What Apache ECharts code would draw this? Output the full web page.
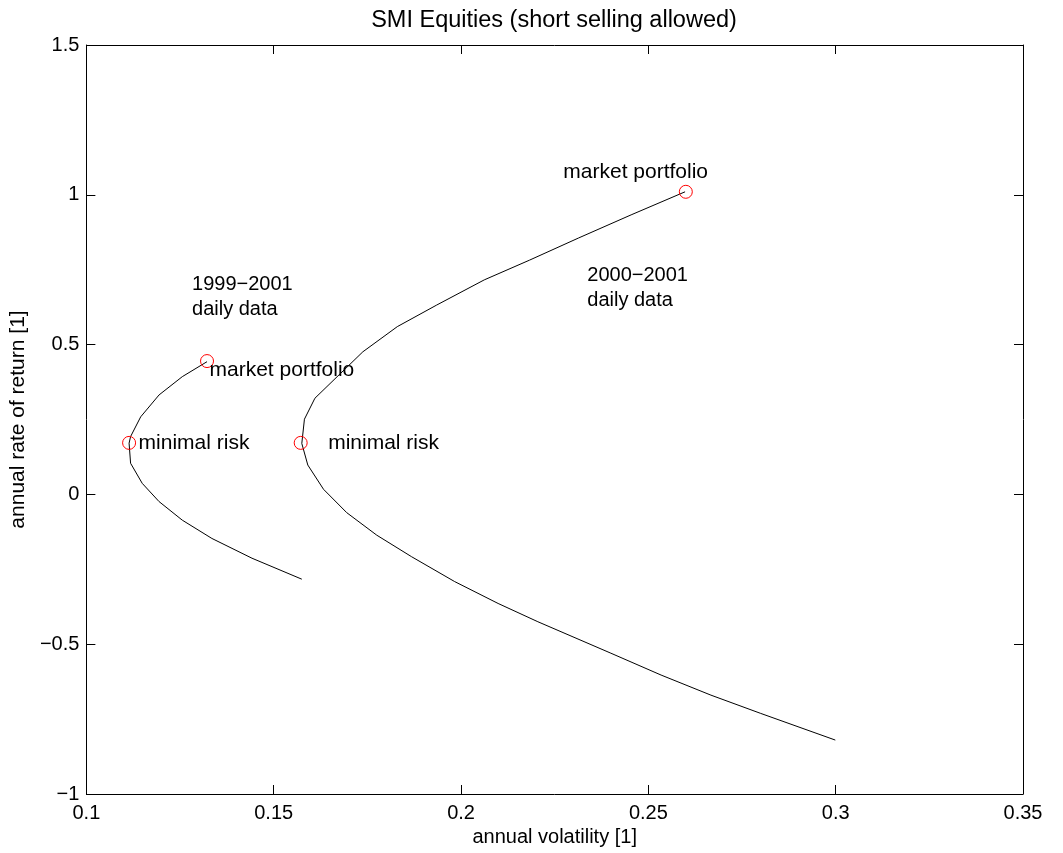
<!DOCTYPE html>
<html>
<head>
<meta charset="utf-8">
<script src="https://cdn.jsdelivr.net/npm/echarts@6/dist/echarts.min.js"></script>
<style>
  html, body { margin: 0; padding: 0; background: #fff; }
  #chart { width: 1063px; height: 853px; }
</style>
</head>
<body>
<div id="chart"></div>
<script>
// ---- Data ----
const titleText = 'SMI Equities (short selling allowed)';
const xAxisName = 'annual volatility [1]';
const yAxisName = 'annual rate of return [1]';

const xTicks = [0.1, 0.15, 0.2, 0.25, 0.3, 0.35];
const yTicks = [-1, -0.5, 0, 0.5, 1, 1.5];

// Frontier 1999-2001 (volatility, return), from market portfolio downwards
const frontier1999 = [
  [0.1322, 0.443], [0.1256, 0.393], [0.1194, 0.332], [0.1145, 0.259],
  [0.1118, 0.193], [0.1114, 0.171], [0.1118, 0.104], [0.1149, 0.037],
  [0.1194, -0.024], [0.1256, -0.086], [0.1335, -0.147], [0.1442, -0.213],
  [0.1575, -0.283]
];

// Frontier 2000-2001
const frontier2000 = [
  [0.2598, 1.010], [0.2454, 0.933], [0.2314, 0.856], [0.2183, 0.782],
  [0.2062, 0.716], [0.1935, 0.632], [0.1830, 0.560], [0.1738, 0.476],
  [0.1610, 0.321], [0.1582, 0.251], [0.1575, 0.170], [0.1591, 0.098],
  [0.1633, 0.017], [0.1695, -0.061], [0.1775, -0.136], [0.1868, -0.208],
  [0.1983, -0.291], [0.2099, -0.364], [0.2205, -0.425], [0.2400, -0.530],
  [0.2534, -0.603], [0.2667, -0.670], [0.2800, -0.731], [0.2999, -0.820]
];

// Special portfolios
const marketPortfolio1999 = [0.1322, 0.445];
const minimalRisk1999 = [0.1114, 0.172];
const marketPortfolio2000 = [0.2600, 1.010];
const minimalRisk2000 = [0.1572, 0.172];

const labelMarket = 'market portfolio';
const labelMinimal = 'minimal risk';

// Free text annotations: [x, y, text]
const periodNotes = [
  [0.1282, 0.6605, '1999\u22122001\ndaily data'],
  [0.2337, 0.6906, '2000\u22122001\ndaily data']
];

// ---- Chart ----
const FONT = '"Liberation Sans", Arial, Helvetica, sans-serif';
const fmtMinus = v => String(+v.toFixed(2)).replace('-', '\u2212');

const baseAxis = {
  type: 'value',
  axisLine: { show: true, onZero: false, lineStyle: { color: '#000', width: 1 } },
  axisTick: { show: true, inside: true, length: 9, lineStyle: { color: '#000', width: 1 } },
  splitLine: { show: false }
};

const chart = echarts.init(document.getElementById('chart'), null, { renderer: 'canvas' });

function markerLabel(text, dx, dy) {
  return {
    show: true, position: 'right', distance: 0, offset: [dx, dy],
    formatter: text, color: '#000', opacity: 1, fontFamily: FONT, fontSize: 21
  };
}

const markerStyle = {
  color: 'rgba(0,0,0,0)', borderColor: '#ff0000', borderWidth: 1, opacity: 1
};

chart.setOption({
  animation: false,
  backgroundColor: '#fff',
  title: {
    text: titleText, left: 549, textAlign: 'center', top: 4,
    textStyle: { fontFamily: FONT, fontSize: 23.5, fontWeight: 'normal', color: '#000' }
  },
  grid: { left: 84, right: 40, top: 45, bottom: 59, containLabel: false },
  xAxis: [
    Object.assign({}, baseAxis, {
      position: 'bottom', min: xTicks[0], max: xTicks[xTicks.length - 1], interval: 0.05,
      name: xAxisName, nameLocation: 'middle', nameGap: 33,
      nameTextStyle: { fontFamily: FONT, fontSize: 20, color: '#000' },
      axisLabel: { show: true, margin: 9, color: '#000', fontFamily: FONT, fontSize: 20, formatter: fmtMinus }
    }),
    Object.assign({}, baseAxis, {
      position: 'top', min: xTicks[0], max: xTicks[xTicks.length - 1], interval: 0.05,
      axisLabel: { show: false }
    })
  ],
  yAxis: [
    Object.assign({}, baseAxis, {
      position: 'left', min: yTicks[0], max: yTicks[yTicks.length - 1], interval: 0.5,
      name: yAxisName, nameLocation: 'middle', nameGap: 42, nameRotate: 90,
      nameTextStyle: { fontFamily: FONT, fontSize: 21, color: '#000' },
      axisLabel: { show: true, margin: 7, color: '#000', fontFamily: FONT, fontSize: 20, formatter: fmtMinus }
    }),
    Object.assign({}, baseAxis, {
      position: 'right', min: yTicks[0], max: yTicks[yTicks.length - 1], interval: 0.5,
      axisLabel: { show: false }
    })
  ],
  series: [
    {
      type: 'line', data: frontier1999, showSymbol: false, symbol: 'none',
      lineStyle: { color: '#000', width: 1 }, silent: true, z: 2
    },
    {
      type: 'line', data: frontier2000, showSymbol: false, symbol: 'none',
      lineStyle: { color: '#000', width: 1 }, silent: true, z: 2
    },
    {
      type: 'scatter', symbol: 'circle', symbolSize: 13, itemStyle: markerStyle, z: 3,
      data: [
        { value: marketPortfolio1999, label: markerLabel(labelMarket, -4.5, 9) },
        { value: minimalRisk1999, label: markerLabel(labelMinimal, 2.5, 0) },
        { value: minimalRisk2000, label: markerLabel(labelMinimal, 20.5, 0) },
        { value: marketPortfolio2000, label: markerLabel(labelMarket, -129.5, -20) }
      ]
    },
    {
      type: 'scatter', symbolSize: 0, silent: true, z: 4,
      itemStyle: { opacity: 1 },
      data: periodNotes.map(n => ({
        value: [n[0], n[1]],
        label: {
          show: true, position: 'right', distance: 0, formatter: n[2],
          color: '#000', opacity: 1, fontFamily: FONT, fontSize: 20, lineHeight: 25
        }
      }))
    }
  ]
});
</script>
</body>
</html>
